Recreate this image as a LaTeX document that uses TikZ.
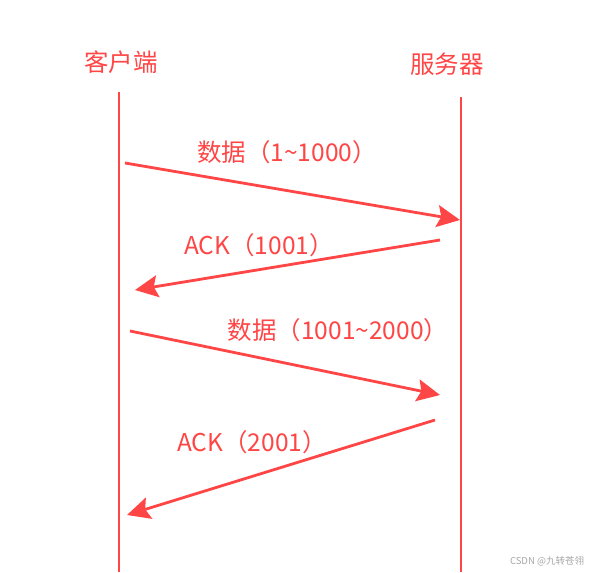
\documentclass[tikz,border=0pt]{standalone}
\usepackage{fontspec}
\setmainfont{Noto Sans CJK SC}
\usetikzlibrary{arrows.meta}
\definecolor{lred}{RGB}{255,70,70}
\begin{document}
\begin{tikzpicture}[x=1pt,y=-1pt,
  msg/.style={lred,line width=2.8pt,-{Stealth[length=23pt,width=22pt,inset=4pt]}},
  lbl/.style={lred,font=\fontsize{24.5}{28}\selectfont,inner sep=0pt}]
  \useasboundingbox (0,0) rectangle (593,572);
  % two sides
  \node (client) at (121,62) [lbl] {客户端};
  \node (server) at (447,64) [lbl] {服务器};
  \coordinate (ct) at (119,92); \coordinate (cb) at (119,572);
  \coordinate (st) at (461,97); \coordinate (sb) at (461,572);
  \draw[lred,line width=2.8pt] (ct) -- (cb); \draw[lred,line width=2.8pt] (st) -- (sb);
  % messages
  \coordinate (a1) at (125,163); \coordinate (b1) at (460,220);
  \coordinate (a2) at (440,240); \coordinate (b2) at (135,290);
  \coordinate (a3) at (130,331); \coordinate (b3) at (440,395);
  \coordinate (a4) at (435,420); \coordinate (b4) at (127,515);
  \draw[msg] (a1) -- (b1); \draw[msg] (a2) -- (b2);
  \draw[msg] (a3) -- (b3); \draw[msg] (a4) -- (b4);
  \node (l1) at (287,152) [lbl] {数据（1\textasciitilde1000）};
  \node (l2) at (259,245) [lbl] {ACK（1001）};
  \node (l3) at (338,330) [lbl] {数据（1001\textasciitilde2000）};
  \node (l4) at (252,442) [lbl] {ACK（2001）};
  \node (mark) at (547,561) [gray!70,font=\fontsize{9.5}{10}\selectfont,inner sep=0pt] {CSDN @九转苍翎};
\end{tikzpicture}
\end{document}
